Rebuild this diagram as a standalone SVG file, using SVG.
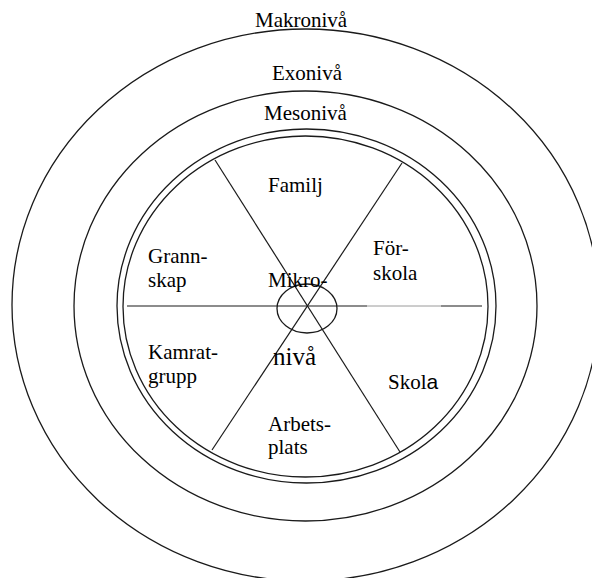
<svg xmlns="http://www.w3.org/2000/svg" width="592" height="578" viewBox="0 0 592 578">
<style>
.ring{fill:none;stroke:#1a1a1a;stroke-width:1.3}
.sp{fill:none;stroke:#1a1a1a;stroke-width:1.2}
text{font-family:"Liberation Serif","Times New Roman",serif;font-size:21px;fill:#000}
</style>
<rect width="592" height="578" fill="#fff"/>
<g id="makro">
<ellipse class="ring" cx="305.5" cy="305" rx="293.5" ry="276"/>
<text x="255" y="27">Makronivå</text>
</g>
<g id="exo">
<ellipse class="ring" cx="305.5" cy="306" rx="231.5" ry="215"/>
<text x="272" y="80">Exonivå</text>
</g>
<g id="meso">
<ellipse class="ring" cx="306.5" cy="306" rx="189.5" ry="177"/>
<ellipse class="ring" cx="305.5" cy="306.5" rx="182.5" ry="170.5"/>
<text x="264" y="120">Mesonivå</text>
</g>
<g id="connectors">
<line class="sp" x1="127" y1="306" x2="367" y2="306"/>
<line x1="367" y1="306" x2="441" y2="306" stroke="#9a9a9a" stroke-width="1"/>
<line class="sp" x1="441" y1="306" x2="482" y2="306"/>
<line class="sp" x1="215" y1="160" x2="400" y2="452"/>
<line class="sp" x1="402" y1="163" x2="212" y2="450"/>
</g>
<g id="mikro">
<ellipse class="ring" cx="307" cy="308.5" rx="30" ry="24.5"/>
<text x="268" y="287">Mikro-</text>
<text x="273" y="365" style="font-size:25px">nivå</text>
</g>
<g id="familj"><text x="268" y="192">Familj</text></g>
<g id="forskola"><text x="373" y="255">För-</text><text x="373" y="280">skola</text></g>
<g id="skola"><text x="388" y="389">Skol<tspan style="font-family:'Liberation Sans',Arial,sans-serif;font-size:21px">a</tspan></text></g>
<g id="arbetsplats"><text x="268" y="431">Arbets-</text><text x="268" y="454">plats</text></g>
<g id="kamratgrupp"><text x="148" y="359">Kamrat-</text><text x="148" y="383">grupp</text></g>
<g id="grannskap"><text x="148" y="263">Grann-</text><text x="148" y="287">skap</text></g>
</svg>
